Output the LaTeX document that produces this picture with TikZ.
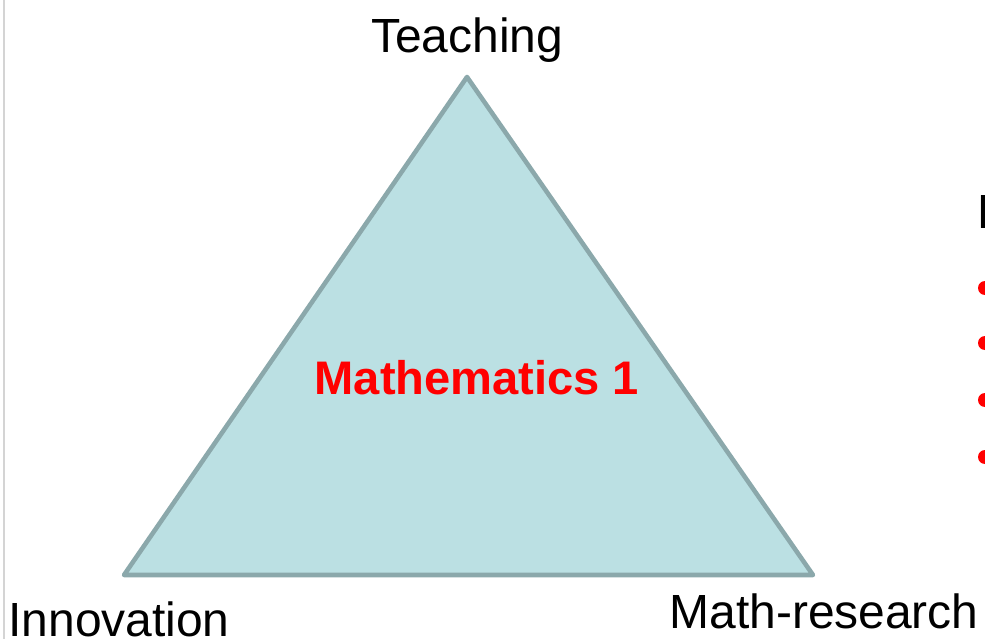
\documentclass[tikz,border=0pt]{standalone}
\usepackage{fontspec}
\setmainfont{Liberation Sans}
\usetikzlibrary{positioning}
\definecolor{trifill}{HTML}{BBE0E3}
\definecolor{triedge}{HTML}{8BA8AB}
\definecolor{sideline}{HTML}{D4D4D4}
\tikzset{corner/.style={font=\fontsize{27.3}{32}\selectfont,inner sep=0pt},
  bulletdot/.style={fill=red}}
\begin{document}
\begin{tikzpicture}[x=0.02cm,y=-0.02cm]
\useasboundingbox (0,0) rectangle (985,639);
\clip (0,0) rectangle (985,639);
\coordinate (T) at (467,77);
\coordinate (I) at (124,575);
\coordinate (M) at (813,575);
\draw[sideline,line width=1.2pt] (4,0)--(4,639);
\draw[fill=trifill,draw=triedge,line width=2.6pt,line join=round] (T)--(M)--(I)--cycle;
\node[corner,anchor=base] (teach) at (467,52) {Teaching};
\node[corner,anchor=base west] (innov) at (8,636) {Innovation};
\node[corner,anchor=base east] (mathres) at (979,628) {Math-research};
\node[corner,anchor=center,text=red,font=\fontsize{26.8}{32}\selectfont\bfseries] (subj) at (477,378) {Mathematics 1};
\node[corner,anchor=base west] (head) at (977,228) {P};
\foreach \y in {288,343,400,457}
  \fill[bulletdot] (985,\y) circle (7);
\end{tikzpicture}
\end{document}
